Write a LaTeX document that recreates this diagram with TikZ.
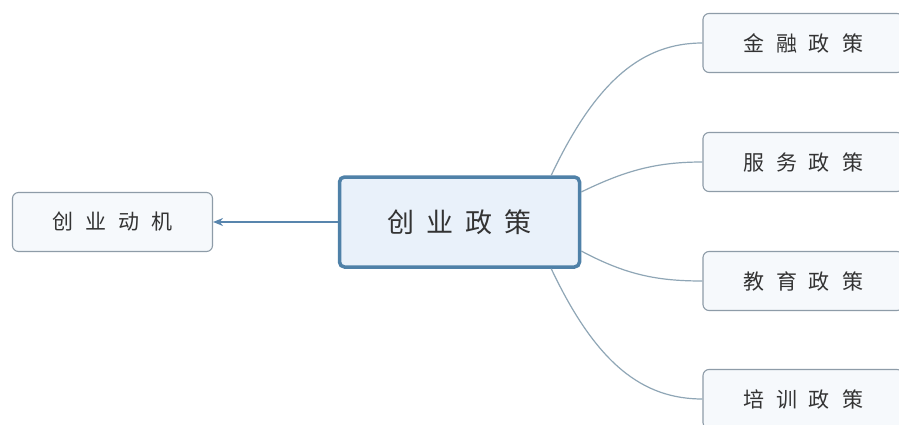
\documentclass[tikz,border=0pt]{standalone}
\usepackage{fontspec}
\newfontfamily\cjk{Noto Sans CJK SC}
\usetikzlibrary{calc,arrows.meta}
\definecolor{mainedge}{HTML}{4F81A8}
\definecolor{mainfill}{HTML}{E9F1FA}
\definecolor{subedge}{HTML}{8E9CA8}
\definecolor{subfill}{HTML}{F6F9FC}
\definecolor{linkcol}{HTML}{8FA6B6}
\definecolor{arrcol}{HTML}{5885AD}
\definecolor{txt}{HTML}{333333}
\newcommand\cgap{\hspace{12pt}}
\newcommand\mgap{\hspace{12pt}}
\tikzset{
  mainbox/.style={draw=mainedge, line width=3.5pt, fill=mainfill, rounded corners=5pt,
    minimum width=240pt, minimum height=90pt, inner sep=0pt, text=txt,
    font=\cjk\fontsize{27}{27}\selectfont},
  subbox/.style={draw=subedge, line width=1.1pt, fill=subfill, rounded corners=6pt,
    minimum width=200pt, minimum height=59pt, inner sep=0pt, text=txt,
    font=\cjk\fontsize{21}{21}\selectfont},
  link/.style={draw=linkcol, line width=1.2pt},
  arrowlink/.style={draw=arrcol, line width=1.3pt, -{Stealth[length=10pt,width=8pt]}}
}
\begin{document}
\begin{tikzpicture}[x=1pt,y=-1pt]
\useasboundingbox (0,0) rectangle (899,425);
\clip (0,0) rectangle (899,425);
\fill[white] (0,0) rectangle (899,425);
\node[mainbox] (c) at (459.5,222) {创\mgap 业\mgap 政\mgap 策};
\node[subbox] (m) at (112.5,222) {创\cgap 业\cgap 动\cgap 机};
\node[subbox] (r1) at (803,43) {金\cgap 融\cgap 政\cgap 策};
\node[subbox] (r2) at (803,162) {服\cgap 务\cgap 政\cgap 策};
\node[subbox] (r3) at (803,281) {教\cgap 育\cgap 政\cgap 策};
\node[subbox] (r4) at (803,399) {培\cgap 训\cgap 政\cgap 策};
\draw[arrowlink] (c.west) -- (m.east);
\coordinate (s1) at ($(c.north east)+(-30,0)$);
\coordinate (s2) at ($(c.east)+(0,-30)$);
\coordinate (s3) at ($(c.east)+(0,29)$);
\coordinate (s4) at ($(c.south east)+(-30,0)$);
\path[link] (s1) .. controls ($(s1)+(45,-95)$) and ($(r1.west)+(-60,0)$) .. (r1.west);
\path[link] (s2) .. controls ($(s2)+(45,-22)$) and ($(r2.west)+(-45,0)$) .. (r2.west);
\path[link] (s3) .. controls ($(s3)+(45,24)$) and ($(r3.west)+(-45,0)$) .. (r3.west);
\path[link] (s4) .. controls ($(s4)+(45,95)$) and ($(r4.west)+(-60,0)$) .. (r4.west);
\end{tikzpicture}
\end{document}
